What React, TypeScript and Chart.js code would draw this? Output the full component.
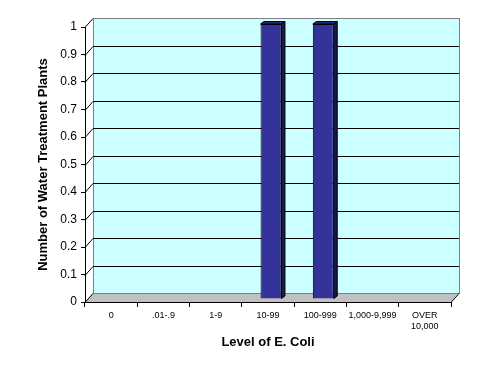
import React, { useEffect, useRef } from "react";
import { Chart, registerables } from "chart.js";

Chart.register(...registerables);

const categories: (string | string[])[] = [
  "0",
  ".01-.9",
  "1-9",
  "10-99",
  "100-999",
  "1,000-9,999",
  ["OVER", "10,000"],
];
const plantCounts: number[] = [0, 0, 0, 1, 1, 0, 0];
const yMin = 0;
const yMax = 1;
const yStep = 0.1;

const FONT = "'Liberation Sans', Arial, sans-serif";
const DEPTH_X = 8;
const DEPTH_Y = -9;
const BAR_SHIFT_X = 3;
const BAR_SHIFT_Y = -3;
const BAR_DX = 3.5;
const BAR_DY = -2.5;

const threeD = {
  id: "threeD",
  beforeDraw(chart: any) {
    const { ctx, chartArea } = chart;
    const { left, right, top, bottom } = chartArea;
    const y = chart.scales.y;
    ctx.save();
    ctx.fillStyle = "#ccffff";
    ctx.fillRect(left + DEPTH_X, top + DEPTH_Y, right - left, bottom - top);
    ctx.beginPath();
    ctx.moveTo(left, bottom);
    ctx.lineTo(right, bottom);
    ctx.lineTo(right + DEPTH_X, bottom + DEPTH_Y);
    ctx.lineTo(left + DEPTH_X, bottom + DEPTH_Y);
    ctx.closePath();
    ctx.fillStyle = "#c0c0c0";
    ctx.fill();
    ctx.strokeStyle = "#808080";
    ctx.lineWidth = 1;
    ctx.strokeRect(
      Math.round(left + DEPTH_X) + 0.5,
      Math.round(top + DEPTH_Y) + 0.5,
      Math.round(right - left),
      Math.round(bottom - top)
    );
    ctx.strokeStyle = "#000000";
    for (let v = yMin; v <= yMax + 1e-9; v += yStep) {
      const py = Math.round(y.getPixelForValue(v)) + 0.5;
      ctx.beginPath();
      ctx.moveTo(left, py);
      ctx.lineTo(left + DEPTH_X, py + DEPTH_Y);
      ctx.stroke();
      if (v > yMin + 1e-9 && v < yMax - 1e-9) {
        ctx.beginPath();
        ctx.moveTo(left + DEPTH_X, py + DEPTH_Y);
        ctx.lineTo(right + DEPTH_X, py + DEPTH_Y);
        ctx.stroke();
      }
    }
    ctx.beginPath();
    ctx.moveTo(right, Math.round(bottom) + 0.5);
    ctx.lineTo(right + DEPTH_X, Math.round(bottom) + 0.5 + DEPTH_Y);
    ctx.stroke();
    ctx.restore();
  },
  beforeDatasetsDraw(chart: any) {
    chart.ctx.save();
    chart.ctx.translate(BAR_SHIFT_X, BAR_SHIFT_Y);
  },
  afterDatasetsDraw(chart: any) {
    const ctx = chart.ctx;
    const meta = chart.getDatasetMeta(0);
    meta.data.forEach((bar: any, i: number) => {
      if (!plantCounts[i]) return;
      const { x, y, width, base } = bar.getProps(["x", "y", "width", "base"], true);
      const l = x - width / 2;
      const r = x + width / 2;
      ctx.lineWidth = 1;
      ctx.strokeStyle = "#000000";
      ctx.beginPath();
      ctx.moveTo(r, y);
      ctx.lineTo(r + BAR_DX, y + BAR_DY);
      ctx.lineTo(r + BAR_DX, base + BAR_DY);
      ctx.lineTo(r, base);
      ctx.closePath();
      ctx.fillStyle = "#1a1a4d";
      ctx.fill();
      ctx.stroke();
      ctx.beginPath();
      ctx.moveTo(l, y);
      ctx.lineTo(l + BAR_DX, y + BAR_DY);
      ctx.lineTo(r + BAR_DX, y + BAR_DY);
      ctx.lineTo(r, y);
      ctx.closePath();
      ctx.fillStyle = "#2b2b80";
      ctx.fill();
      ctx.stroke();
    });
    ctx.restore();
  },
};

export default function App() {
  const ref = useRef<HTMLCanvasElement | null>(null);
  useEffect(() => {
    if (!ref.current) return;
    const chart = new Chart(ref.current, {
      type: "bar",
      data: {
        labels: categories,
        datasets: [
          {
            data: plantCounts,
            backgroundColor: "#333399",
            borderColor: "#000000",
            borderWidth: 1,
            categoryPercentage: 1,
            barPercentage: 0.4,
          },
        ],
      },
      options: {
        responsive: false,
        animation: false,
        devicePixelRatio: 1,
        layout: { padding: { top: 27, right: 40, bottom: 0, left: 0 } },
        plugins: { legend: { display: false }, tooltip: { enabled: false } },
        scales: {
          x: {
            grid: {
              drawOnChartArea: false,
              drawTicks: true,
              tickLength: 5,
              color: "#000000",
            },
            border: { display: true, color: "#000000" },
            ticks: {
              color: "#000000",
              font: { family: FONT, size: 9 },
              padding: 3,
              maxRotation: 0,
              autoSkip: false,
            },
            title: {
              display: true,
              text: "Level of E. Coli",
              color: "#000000",
              font: { family: FONT, size: 13, weight: "bold" },
              padding: { top: 0, bottom: 24 },
            },
            afterFit: (s: any) => {
              s.height = 72;
            },
          },
          y: {
            min: yMin,
            max: yMax,
            ticks: {
              stepSize: yStep,
              color: "#000000",
              font: { family: FONT, size: 12 },
              padding: 4,
              callback: (v: any) => String(Math.round(Number(v) * 10) / 10),
            },
            grid: {
              drawOnChartArea: false,
              drawTicks: true,
              tickLength: 4,
              color: "#000000",
            },
            border: { display: true, color: "#000000" },
            title: {
              display: true,
              text: "Number of Water Treatment Plants",
              color: "#000000",
              font: { family: FONT, size: 13, weight: "bold" },
              padding: { top: 36, bottom: 0 },
            },
            afterFit: (s: any) => {
              s.width = 85;
            },
          },
        },
      },
      plugins: [threeD],
    });
    return () => chart.destroy();
  }, []);
  return (
    <div style={{ position: "absolute", left: 0, top: 0, width: 491, height: 374, background: "#fff" }}>
      <canvas ref={ref} width={491} height={374} />
    </div>
  );
}
